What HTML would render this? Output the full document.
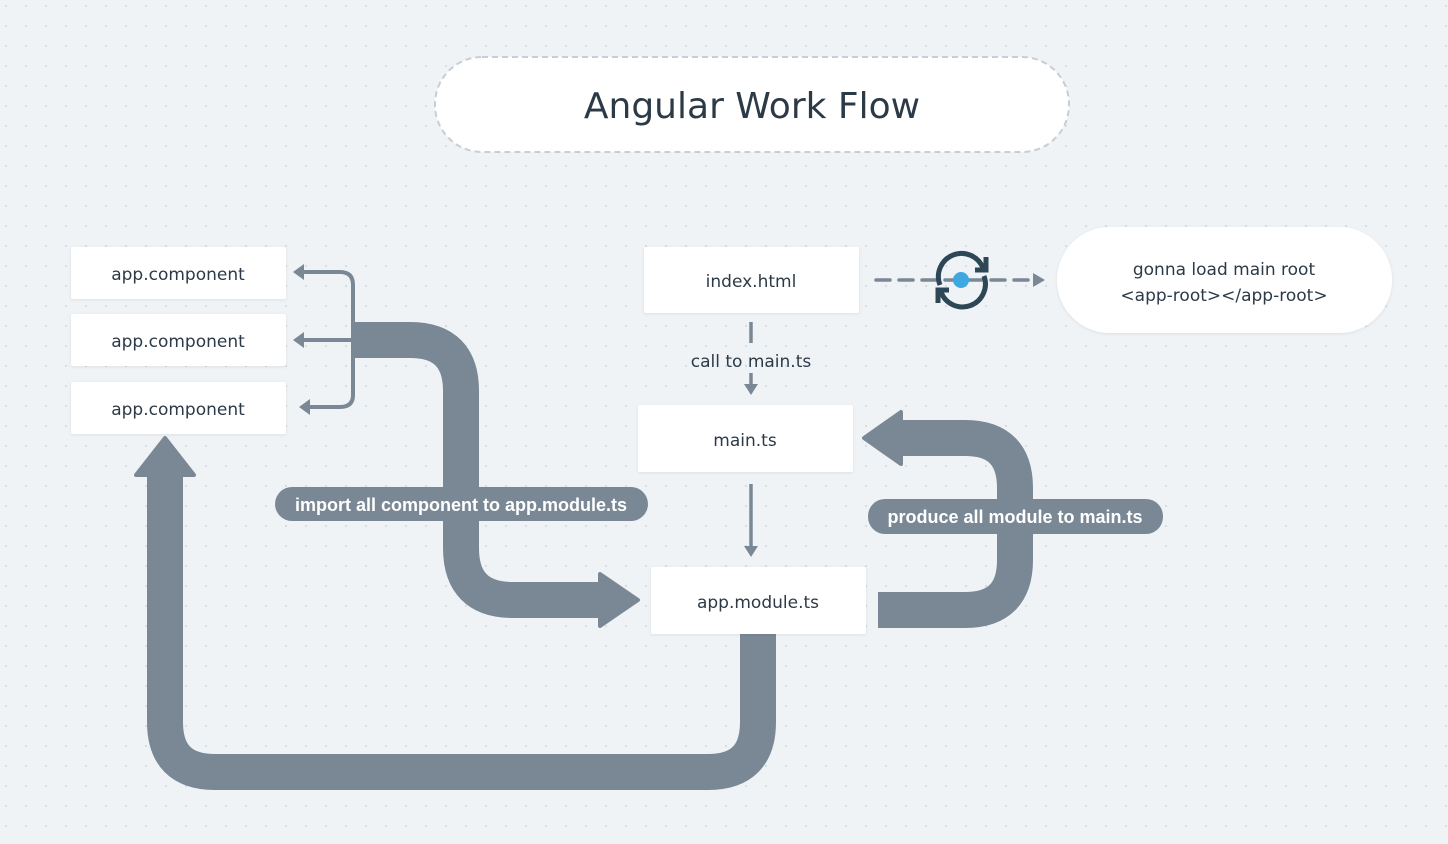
<!DOCTYPE html>
<html><head><meta charset="utf-8"><style>
html,body{margin:0;padding:0;width:1448px;height:844px;overflow:hidden;background:#eff3f6;}
svg{display:block}
text{font-family:"DejaVu Sans","Liberation Sans",sans-serif;fill:#2c3a47;}
</style></head><body>
<svg width="1448" height="844" viewBox="0 0 1448 844" xmlns="http://www.w3.org/2000/svg">
<defs>
<pattern id="dots" width="20" height="20" patternUnits="userSpaceOnUse" x="5" y="5">
<circle cx="1" cy="1" r="0.9" fill="#c2cad4"/>
</pattern>
<filter id="sh" x="-10%" y="-20%" width="120%" height="150%"><feDropShadow dx="0" dy="1" stdDeviation="1.5" flood-color="#000" flood-opacity="0.08"/></filter>
</defs>
<rect width="1448" height="844" fill="#eff3f6"/>
<rect width="1448" height="844" fill="url(#dots)"/>

<rect x="435" y="57" width="634" height="95" rx="47" fill="#fff" stroke="#c8ced6" stroke-width="2" stroke-dasharray="6 4"/>
<text x="752" y="118" font-size="36" text-anchor="middle" font-family="Liberation Sans">Angular Work Flow</text>

<g fill="none" stroke="#7a8896" stroke-width="36">
<path d="M352 340 H410 Q461 340 461 391 V548 Q461 600 513 600 H600"/>
<path d="M758 632 V722 Q758 772 708 772 H215 Q165 772 165 722 V474"/>
<path d="M878 610 H965 Q1015 610 1015 560 V488 Q1015 438 965 438 H900"/>
</g>
<g fill="#7a8896" stroke="#7a8896" stroke-width="4" stroke-linejoin="round">
<polygon points="600,574 638,600 600,626"/>
<polygon points="165,438 194,475 136,475"/>
<polygon points="864,438 901,412 901,464"/>
</g>

<g fill="none" stroke="#7a8896" stroke-width="4">
<path d="M300 272 H340 Q353 272 353 285 V395 Q353 407 340 407 H306"/>
<path d="M298 340 H353"/>
</g>
<g fill="#7a8896">
<polygon points="293,272 304,264 304,280"/>
<polygon points="293,340 304,332 304,348"/>
<polygon points="299,407 310,399 310,415"/>
</g>

<g stroke="#7a8896" stroke-width="3.5" fill="none">
<path d="M751 322 V343"/>
<path d="M751 373 V386"/>
<path d="M751 484 V548"/>
<path d="M876 280 H1034" stroke-dasharray="14 9" stroke-linecap="round"/>
</g>
<g fill="#7a8896">
<polygon points="744,384 758,384 751,395"/>
<polygon points="744,546 758,546 751,557"/>
<polygon points="1033,273 1045,280 1033,287"/>
</g>
<text x="751" y="367" font-size="17" text-anchor="middle">call to main.ts</text>

<g fill="none" stroke="#2e4756" stroke-width="5" stroke-linecap="butt">
<path d="M940 285 A22 22 0 0 1 983 268"/>
<path d="M984 276 A22 22 0 0 1 941 292"/>
<path d="M975 270 H986 V257"/>
<path d="M949 290 H938 V303"/>
</g>
<circle cx="961" cy="280" r="8" fill="#3fa8e0"/>

<g fill="#fff" filter="url(#sh)">
<rect x="71" y="247" width="215" height="52" rx="2"/>
<rect x="71" y="314" width="215" height="52" rx="2"/>
<rect x="71" y="382" width="215" height="52" rx="2"/>
<rect x="644" y="247" width="215" height="66" rx="2"/>
<rect x="638" y="405" width="215" height="67" rx="2"/>
<rect x="651" y="567" width="215" height="67" rx="2"/>
<rect x="1057" y="227" width="335" height="106" rx="53"/>
</g>
<g font-size="17" text-anchor="middle">
<text x="178" y="280">app.component</text>
<text x="178" y="347">app.component</text>
<text x="178" y="415">app.component</text>
<text x="751" y="287">index.html</text>
<text x="745" y="446">main.ts</text>
<text x="758" y="608">app.module.ts</text>
<text x="1224" y="275">gonna load main root</text>
<text x="1224" y="301">&lt;app-root&gt;&lt;/app-root&gt;</text>
</g>

<rect x="275" y="487" width="373" height="34" rx="17" fill="#7a8896"/>
<text x="461" y="511" font-size="18" font-weight="bold" text-anchor="middle" font-family="Liberation Sans" style="fill:#fff;font-family:'Liberation Sans',sans-serif">import all component to app.module.ts</text>
<rect x="868" y="499" width="295" height="35" rx="17" fill="#7a8896"/>
<text x="1015" y="523" font-size="18" font-weight="bold" text-anchor="middle" style="fill:#fff;font-family:'Liberation Sans',sans-serif">produce all module to main.ts</text>
</svg>
</body></html>
